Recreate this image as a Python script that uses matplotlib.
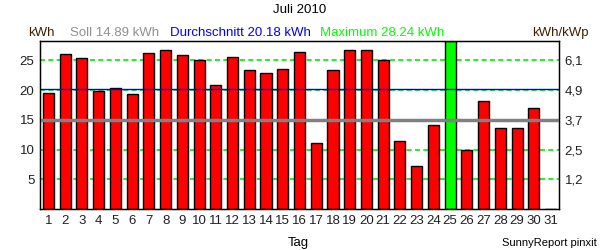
import matplotlib.pyplot as plt
import numpy as np

plt.rcParams['font.family'] = ['Liberation Sans', 'DejaVu Sans']

tage = np.arange(1, 32)
ertrag = [19.5, 26.0, 25.3, 19.8, 20.4, 19.3, 26.3, 26.8, 25.9, 25.1,
          20.9, 25.6, 23.3, 22.8, 23.6, 26.4, 11.1, 23.4, 26.8, 26.7,
          25.1, 11.5, 7.3, 14.1, 28.24, 10.0, 18.1, 13.6, 13.6, 16.9, 0.0]
soll = 14.89
schnitt = 20.18
maximum = 28.24
yticks = [5, 10, 15, 20, 25]
yticks_kwp = ['1,2', '2,5', '3,7', '4,9', '6,1']

farben = ['#00ff00' if v == maximum else '#ff0000' for v in ertrag]

fig = plt.figure(figsize=(6, 2.5), dpi=100)
ax = fig.add_axes([40/600, 41/250, 519/600, 168/250])

for y in yticks:
    ax.axhline(y, color='#00ee00', lw=1.2, ls=(0, (3, 2)), zorder=1)
ax.bar(tage, ertrag, width=0.66, color=farben, edgecolor='black', lw=1, zorder=2)
ax.axhline(soll, color='#808080', lw=2.5, zorder=3)
ax.axhline(schnitt, color='#0000ff', lw=1, zorder=3)

fs = 9.5
ax.set_xlim(0.5, 31.5)
ax.set_ylim(0, maximum)
ax.set_xticks(tage)
ax.set_xticklabels([str(t) for t in tage], fontsize=fs)
ax.set_yticks(yticks)
ax.set_yticklabels([str(t) for t in yticks], fontsize=fs)
ax.tick_params(length=0, pad=4, colors='#202020')
for s in ax.spines.values():
    s.set_color('black')
    s.set_linewidth(1)

ax2 = ax.twinx()
ax2.set_ylim(0, maximum)
ax2.set_yticks(yticks)
ax2.set_yticklabels(yticks_kwp, fontsize=fs)
ax2.tick_params(length=0, pad=4, colors='#202020')

fig.text(0.5, 0.96, 'Juli 2010', ha='center', va='center', fontsize=fs)
fig.text(28/600, 217/250, 'kWh', ha='left', va='center', fontsize=fs, color='#402000')
fig.text(70/600, 217/250, 'Soll 14.89 kWh', ha='left', va='center', fontsize=fs, color='#909090')
fig.text(170/600, 217/250, 'Durchschnitt 20.18 kWh', ha='left', va='center', fontsize=fs, color='#0000ff')
fig.text(320/600, 217/250, 'Maximum 28.24 kWh', ha='left', va='center', fontsize=fs, color='#00ff00')
fig.text(589/600, 217/250, 'kWh/kWp', ha='right', va='center', fontsize=fs, color='#402000')
fig.text(298/600, 7/250, 'Tag', ha='center', va='center', fontsize=fs)
fig.text(597/600, 7/250, 'SunnyReport pinxit', ha='right', va='center', fontsize=8)

fig.savefig('out.png', dpi=100)
